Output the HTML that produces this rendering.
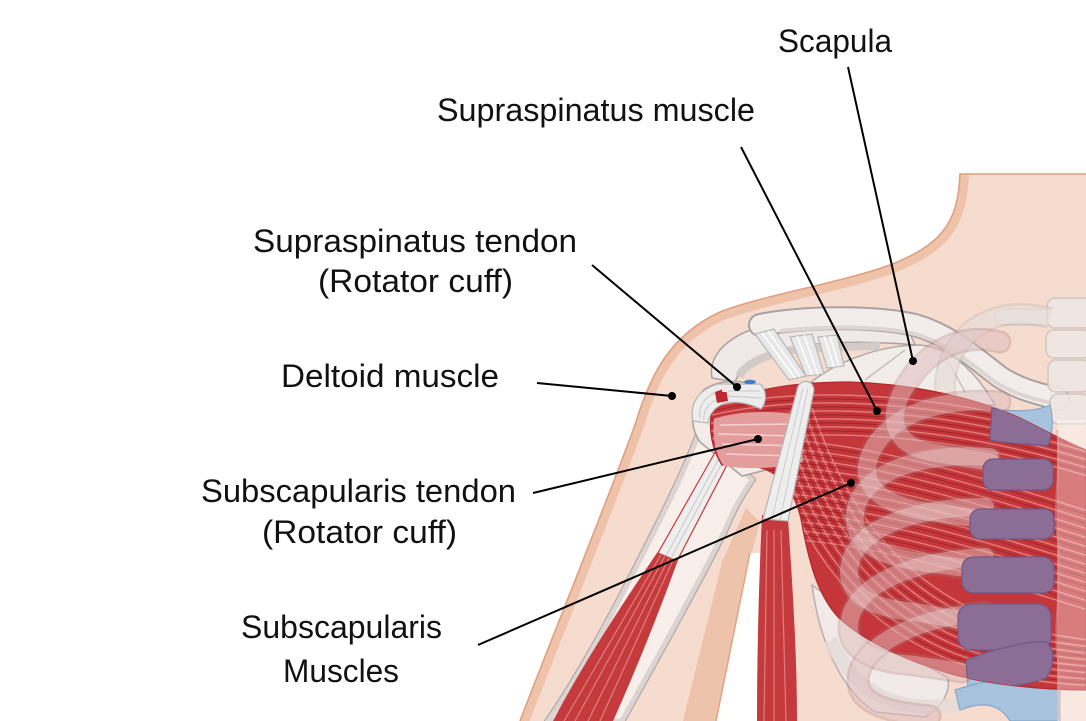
<!DOCTYPE html>
<html><head><meta charset="utf-8"><style>
html,body{margin:0;padding:0;background:#fff;}
svg{display:block;}
text{font-family:"Liberation Sans",Arial,sans-serif;font-size:32px;fill:#111;}
</style></head><body>
<svg width="1086" height="721" viewBox="0 0 1086 721" xmlns="http://www.w3.org/2000/svg">
<defs>
<path id="skinP" d="M520,721 C545,655 600,520 635,425 C650,375 670,335 720,312 C760,296 840,283 890,265 C940,245 958,225 960,174 L1086,174 L1086,721 Z"/>
<clipPath id="skinClip"><use href="#skinP"/></clipPath>
<path id="musP" d="M712,412 C735,392 785,382 850,382 C915,384 975,398 1020,418 C1045,430 1065,442 1086,450 L1086,690 C1040,690 985,684 948,673 C905,660 865,642 838,617 C818,595 810,565 803,530 C798,495 782,472 757,467 L722,465 C712,450 708,428 712,412 Z"/>
<clipPath id="musClip"><use href="#musP"/></clipPath>
<path id="fa" d="M700,410 C800,383 950,392 1100,440" fill="none"/>
<path id="fb" d="M715,440 C830,430 960,470 1100,515" fill="none"/>
<path id="fc" d="M770,450 C800,540 850,620 950,660 C1000,678 1050,684 1100,686" fill="none"/>
<g id="cart">
<path d="M992,408 C1010,412 1035,412 1050,405 C1054,420 1052,436 1048,446 C1030,444 1008,444 990,440 Z"/>
<rect x="983" y="459" width="70" height="31" rx="10"/>
<rect x="970" y="509" width="84" height="30" rx="10"/>
<rect x="962" y="557" width="92" height="36" rx="11"/>
<rect x="958" y="604" width="93" height="46" rx="13"/>
<path d="M966,660 C990,650 1030,640 1046,642 C1056,648 1054,668 1046,678 C1025,686 990,690 968,688 Z"/>
</g>
<g id="ribs">
<path d="M1000,342 C960,332 925,352 905,387 C885,420 895,445 930,452 L990,462"/>
<path d="M1000,402 C930,397 885,420 870,455 C858,485 880,505 930,512 L975,518"/>
<path d="M990,457 C920,452 870,472 858,502 C845,535 870,555 920,562 L965,568"/>
<path d="M985,507 C915,507 865,527 852,557 C840,590 865,608 915,612 L960,620"/>
<path d="M985,557 C915,560 865,582 852,612 C840,645 865,662 915,665 L962,672"/>
<path d="M985,612 C920,617 870,642 860,670 C850,700 880,712 930,716"/>
</g>
</defs>

<!-- skin -->
<use href="#skinP" fill="#f6dccf"/>
<g clip-path="url(#skinClip)">
<path d="M520,721 C545,655 600,520 635,425 C650,375 670,335 720,312 C760,296 840,283 890,265 C940,245 958,225 960,174" fill="none" stroke="#efc2aa" stroke-width="18"/>
</g>
<path d="M520,721 C545,655 600,520 635,425 C650,375 670,335 720,312 C760,296 840,283 890,265 C940,245 958,225 960,174 L1086,174" fill="none" stroke="#e09f80" stroke-width="1.6"/>
<!-- arm inner shadow & gap -->
<path d="M683,721 L717,721 L752,552 L760,522 L746,508 L722,562 Z" fill="#eec3ac"/>
<path d="M716,721 L750,553 L763,553 L763,721 Z" fill="#ffffff"/>
<path d="M716,721 L750,553" stroke="#e2a385" stroke-width="1.5" fill="none"/>

<!-- posterior/scapula lower part -->
<path d="M812,585 C818,630 835,685 875,712 L925,717 C945,705 950,690 948,678 L900,650 Z" fill="#f1eae8" stroke="#b9b0ae" stroke-width="1.5"/>
<path d="M830,640 C860,700 900,712 960,705" fill="none" stroke="#e5dad6" stroke-width="14" opacity=".8"/>

<!-- humerus shaft -->
<path d="M700,430 C695,445 680,480 660,520 C630,580 590,660 548,721 L622,721 C650,670 690,600 725,530 C735,505 745,490 752,480 Z" fill="#f8eeea" stroke="#a9a19f" stroke-width="7"/>
<path d="M700,430 C695,445 680,480 660,520 C630,580 590,660 548,721 L622,721 C650,670 690,600 725,530 C735,505 745,490 752,480 Z" fill="#f8eeea" stroke="#dcd4d1" stroke-width="5"/>
<!-- humerus head -->
<path d="M700,442 C689,426 690,402 705,389 C725,376 760,380 776,400 L782,466 L742,476 Z" fill="#f4ece9" stroke="#a9a19f" stroke-width="1.5"/>

<!-- long head biceps -->
<path d="M659,550 L679,557 C660,610 636,670 613,721 L553,721 C585,660 625,600 659,550 Z" fill="#c43a3d"/>
<g stroke="#e88f8d" stroke-width="1.2" fill="none" opacity=".8">
<path d="M665,556 L575,721"/><path d="M670,556 L588,721"/><path d="M674,558 L600,721"/><path d="M662,553 L564,721"/>
</g>
<path d="M726,433 C730,424 743,427 741,438 L677,561 L658,553 Z" fill="#eeeeee" stroke="#c23a3c" stroke-width="1.2"/>
<g stroke="#c9c9c9" stroke-width="1" fill="none"><path d="M731,436 L666,556"/><path d="M736,437 L671,558"/></g>

<!-- scapula / acromion / clavicle -->
<path d="M800,392 C830,362 880,345 920,345 C950,348 975,370 995,405 L800,405 Z" fill="#f3edea" stroke="#b3aba9" stroke-width="1.5"/>
<path d="M865,380 L905,350 M945,355 L965,392" stroke="#c9c0bd" stroke-width="1.5" fill="none"/>
<path d="M712,378 C708,356 726,338 756,328 C790,318 850,316 905,322 L915,345 C860,340 810,342 780,350 C755,358 740,368 735,382 Z" fill="#efe9e7" stroke="#aaa2a0" stroke-width="1.5"/>
<path d="M739,376 C748,360 775,351 810,348 L880,346" stroke="#d3cbc8" stroke-width="8" fill="none"/>
<path d="M760,325 C800,317 870,315 915,325 C950,335 975,358 1000,377 C1020,390 1040,394 1058,399" stroke="#aaa2a0" stroke-width="24" fill="none" stroke-linecap="round"/>
<path d="M760,325 C800,317 870,315 915,325 C950,335 975,358 1000,377 C1020,390 1040,394 1058,399" stroke="#f2edeb" stroke-width="20" fill="none" stroke-linecap="round"/>
<path d="M780,331 C830,326 880,326 915,334 C945,343 970,362 995,382 C1015,395 1040,401 1058,404" stroke="#ddd5d2" stroke-width="4" fill="none"/>
<!-- ligaments -->
<g fill="#e8e8e8" stroke="#b8b8b8" stroke-width="1.2">
<path d="M755,334 L774,329 L806,376 L789,380 Z"/>
<path d="M790,337 L812,334 L824,374 L806,376 Z"/>
<path d="M818,337 L837,335 L844,366 L827,368 Z"/>
</g>
<g stroke="#ffffff" stroke-width="1.5" fill="none">
<path d="M762,333 L795,378"/><path d="M768,331 L800,377"/><path d="M797,336 L812,375"/><path d="M804,335 L818,375"/><path d="M824,336 L834,367"/><path d="M830,336 L839,366"/>
</g>

<!-- vertebrae top right -->
<g fill="#efe6e2" stroke="#cfc5c1" stroke-width="1.5" opacity=".95">
<rect x="995" y="309" width="60" height="16" rx="8"/>
<rect x="1047" y="298" width="45" height="30" rx="8"/>
<rect x="1046" y="330" width="45" height="28" rx="8"/>
<rect x="1048" y="360" width="42" height="32" rx="8"/>
<rect x="1050" y="394" width="40" height="30" rx="8"/>
</g>
<!-- faint posterior rib loop over skin -->
<path d="M1050,318 C1000,305 965,325 950,360 C938,395 945,420 990,430" fill="none" stroke="#cbbdb8" stroke-opacity=".45" stroke-width="22"/>
<path d="M1050,318 C1000,305 965,325 950,360 C938,395 945,420 990,430" fill="none" stroke="#f3ebe8" stroke-opacity=".5" stroke-width="17"/>

<!-- cartilage base (light blue) -->
<g fill="#a7c3de" stroke="#86a7c9" stroke-width="1.2"><use href="#cart"/></g>
<path d="M955,690 C990,678 1030,675 1058,680 L1058,721 L1010,721 C1000,705 985,700 960,710 Z" fill="#a7c3de" stroke="#86a7c9" stroke-width="1.2"/>

<!-- big muscle -->
<use href="#musP" fill="#c4363a"/>
<g clip-path="url(#musClip)" fill="none">
<g stroke="#ec9896" stroke-width="1.4" opacity=".75">
<use href="#fa"/><use href="#fa" transform="translate(0,8)"/><use href="#fa" transform="translate(0,16)"/><use href="#fa" transform="translate(0,24)"/><use href="#fa" transform="translate(0,32)"/><use href="#fa" transform="translate(0,40)"/>
<use href="#fb"/><use href="#fb" transform="translate(0,9)"/><use href="#fb" transform="translate(0,18)"/><use href="#fb" transform="translate(0,27)"/><use href="#fb" transform="translate(0,36)"/><use href="#fb" transform="translate(0,45)"/><use href="#fb" transform="translate(0,54)"/><use href="#fb" transform="translate(0,63)"/><use href="#fb" transform="translate(0,72)"/><use href="#fb" transform="translate(0,81)"/><use href="#fb" transform="translate(0,90)"/><use href="#fb" transform="translate(0,99)"/>
<use href="#fc"/><use href="#fc" transform="translate(6,-6)"/><use href="#fc" transform="translate(12,-12)"/><use href="#fc" transform="translate(18,-18)"/><use href="#fc" transform="translate(24,-24)"/><use href="#fc" transform="translate(30,-30)"/><use href="#fc" transform="translate(36,-36)"/><use href="#fc" transform="translate(42,-42)"/>
</g>
<g stroke="#9c2228" stroke-width="1.1" opacity=".8">
<use href="#fa" transform="translate(0,4)"/><use href="#fa" transform="translate(0,12)"/><use href="#fa" transform="translate(0,20)"/><use href="#fa" transform="translate(0,28)"/><use href="#fa" transform="translate(0,36)"/>
<use href="#fb" transform="translate(0,4)"/><use href="#fb" transform="translate(0,13)"/><use href="#fb" transform="translate(0,22)"/><use href="#fb" transform="translate(0,31)"/><use href="#fb" transform="translate(0,40)"/><use href="#fb" transform="translate(0,49)"/><use href="#fb" transform="translate(0,58)"/><use href="#fb" transform="translate(0,67)"/><use href="#fb" transform="translate(0,76)"/><use href="#fb" transform="translate(0,85)"/><use href="#fb" transform="translate(0,94)"/>
<use href="#fc" transform="translate(3,-3)"/><use href="#fc" transform="translate(9,-9)"/><use href="#fc" transform="translate(15,-15)"/><use href="#fc" transform="translate(21,-21)"/><use href="#fc" transform="translate(27,-27)"/><use href="#fc" transform="translate(33,-33)"/><use href="#fc" transform="translate(39,-39)"/>
</g>
</g>
<use href="#musP" fill="none" stroke="#b12a2f" stroke-width="1.2"/>

<!-- translucent ribs -->
<g fill="none" stroke-linecap="round">
<g stroke="#a86e6e" stroke-opacity=".28" stroke-width="23"><use href="#ribs"/></g>
<g stroke="#fbe4e4" stroke-opacity=".34" stroke-width="18"><use href="#ribs"/></g>
</g>

<!-- cartilage over muscle (purple) -->
<g clip-path="url(#musClip)"><g fill="#8b6d96" stroke="#6f5a86" stroke-width="1.2"><use href="#cart"/></g></g>

<!-- sternum overlay -->
<rect x="1057" y="420" width="29" height="301" fill="#ffffff" opacity=".35"/>
<path d="M1057,430 C1062,470 1052,500 1058,540 C1064,580 1052,620 1058,660 C1062,690 1058,705 1060,721" stroke="#c99" stroke-opacity=".5" stroke-width="2" fill="none"/>

<!-- subscapularis tendon area -->
<path d="M714,418 C740,410 770,410 800,414 L803,462 C780,468 750,470 724,466 C715,455 712,435 714,418 Z" fill="#e49d9d"/>
<g stroke="#f6cfcd" stroke-width="1.6" fill="none">
<path d="M720,425 L800,424"/><path d="M718,434 L795,436"/><path d="M722,444 L802,446"/><path d="M726,454 L790,456"/>
</g>
<path d="M714,418 C740,410 770,410 800,414" stroke="#c23a3c" stroke-width="1.2" fill="none"/>

<!-- supraspinatus tendon cap -->
<path d="M693,421 C689,402 700,389 718,384 L760,384 C767,390 767,402 761,409 C746,402 731,400 721,405 C713,409 709,416 708,423 Z" fill="#ededed" stroke="#b5b5b5" stroke-width="1.2"/>
<g stroke="#c8c8c8" stroke-width="1" fill="none"><path d="M700,418 C698,405 706,395 720,391 L760,391"/><path d="M704,420 C703,410 710,400 725,396 L762,398"/></g>
<path d="M715,392 L726,388 L728,401 L717,403 Z" fill="#c0282d"/>
<rect x="722" y="386" width="6" height="6" fill="#fde2e2"/>
<ellipse cx="750" cy="382" rx="6" ry="2.2" fill="#3b7fd0"/>

<!-- short head biceps -->
<path d="M762,515 L788,518 C792,580 797,650 797,721 L757,721 C757,650 759,580 762,515 Z" fill="#c43a3d"/>
<g stroke="#e88f8d" stroke-width="1.2" fill="none" opacity=".8"><path d="M767,530 L764,721"/><path d="M774,530 L774,721"/><path d="M781,530 L786,721"/></g>
<path d="M797,390 C798,379 813,378 814,390 L788,521 L763,519 Z" fill="#eeeeee" stroke="#b5b5b5" stroke-width="1.2"/>
<g stroke="#cdcdcd" stroke-width="1" fill="none"><path d="M803,388 L772,519"/><path d="M808,388 L780,520"/></g>

<!-- leader lines -->
<g stroke="#000" stroke-width="2" fill="none">
<path d="M848,67 L913,361"/>
<path d="M741,147 L877,411"/>
<path d="M592,265 L737,387"/>
<path d="M537,383 L672,396"/>
<path d="M533,493 L758,439"/>
<path d="M478,645 L851,483"/>
</g>
<g fill="#000">
<circle cx="913" cy="361" r="4"/><circle cx="877" cy="411" r="4"/><circle cx="737" cy="387" r="4"/>
<circle cx="672" cy="396" r="4"/><circle cx="758" cy="439" r="4"/><circle cx="851" cy="483" r="4"/>
</g>

<!-- labels -->
<text x="778" y="52" textLength="114" lengthAdjust="spacingAndGlyphs">Scapula</text>
<text x="437" y="121" textLength="318" lengthAdjust="spacingAndGlyphs">Supraspinatus muscle</text>
<text x="253" y="252" textLength="324" lengthAdjust="spacingAndGlyphs">Supraspinatus tendon</text>
<text x="318" y="292" textLength="195" lengthAdjust="spacingAndGlyphs">(Rotator cuff)</text>
<text x="281" y="387" textLength="218" lengthAdjust="spacingAndGlyphs">Deltoid muscle</text>
<text x="201" y="502" textLength="315" lengthAdjust="spacingAndGlyphs">Subscapularis tendon</text>
<text x="262" y="543" textLength="195" lengthAdjust="spacingAndGlyphs">(Rotator cuff)</text>
<text x="241" y="638" textLength="201" lengthAdjust="spacingAndGlyphs">Subscapularis</text>
<text x="283" y="682" textLength="116" lengthAdjust="spacingAndGlyphs">Muscles</text>
</svg>
</body></html>
